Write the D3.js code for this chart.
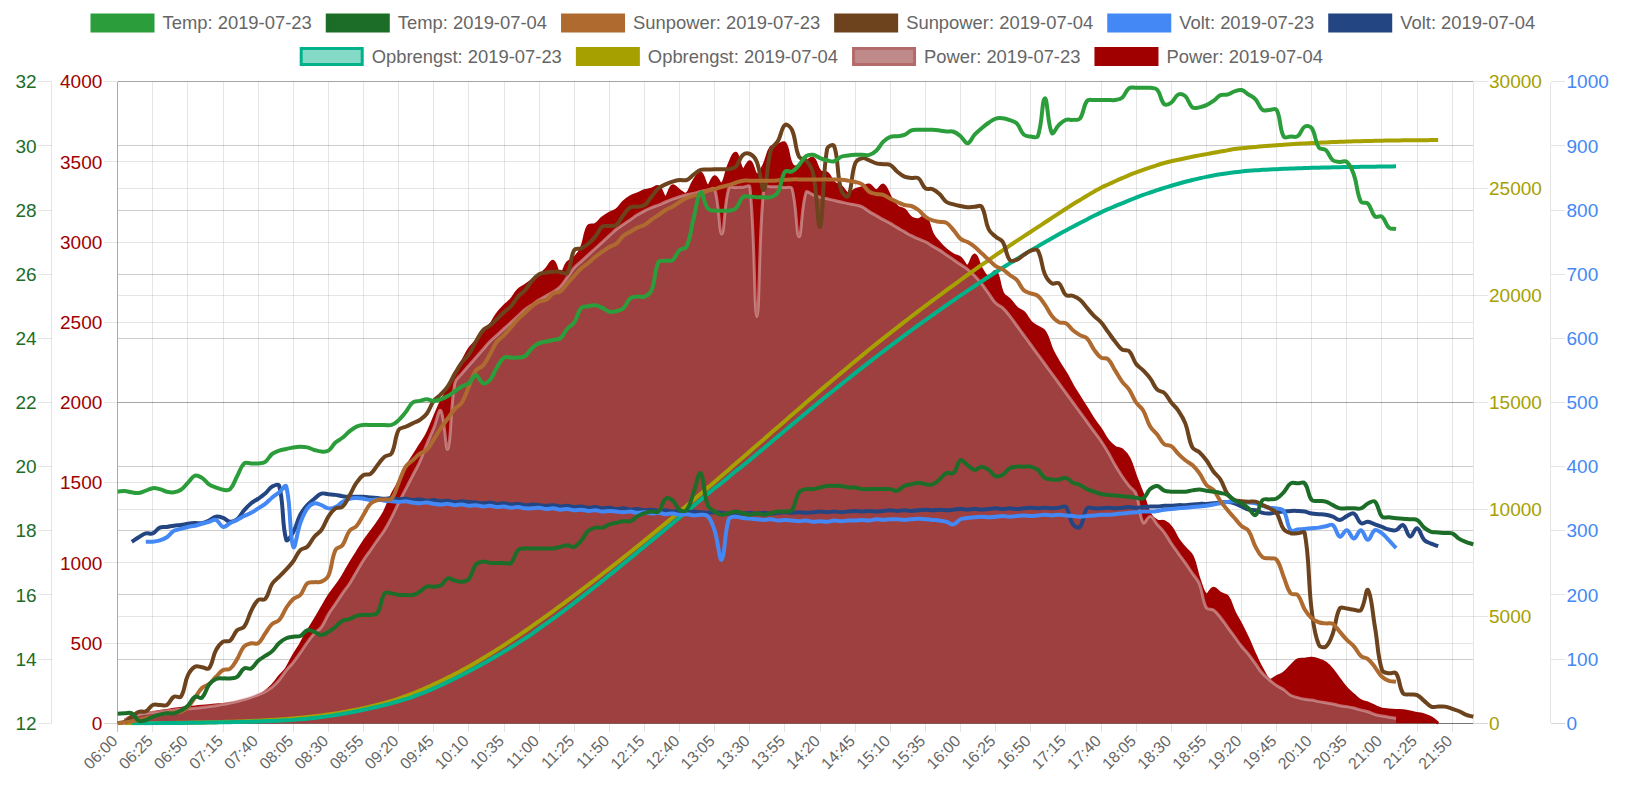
<!DOCTYPE html>
<html><head><meta charset="utf-8">
<script src="https://cdn.jsdelivr.net/npm/d3@7"></script>
<style>
html,body{margin:0;padding:0;background:#fff;}
svg{display:block;font-family:"Liberation Sans",Arial,Helvetica,sans-serif;}
</style></head><body>
<svg id="chart" width="1632" height="788"></svg>
<script>
const labels = ["06:00","06:05","06:10","06:15","06:20","06:25","06:30","06:35","06:40","06:45","06:50","06:55",
"07:00","07:05","07:10","07:15","07:20","07:25","07:30","07:35","07:40","07:45","07:50","07:55",
"08:00","08:05","08:10","08:15","08:20","08:25","08:30","08:35","08:40","08:45","08:50","08:55",
"09:00","09:05","09:10","09:15","09:20","09:25","09:30","09:35","09:40","09:45","09:50","09:55",
"10:00","10:05","10:10","10:15","10:20","10:25","10:30","10:35","10:40","10:45","10:50","10:55",
"11:00","11:05","11:10","11:15","11:20","11:25","11:30","11:35","11:40","11:45","11:50","11:55",
"12:00","12:05","12:10","12:15","12:20","12:25","12:30","12:35","12:40","12:45","12:50","12:55",
"13:00","13:05","13:10","13:15","13:20","13:25","13:30","13:35","13:40","13:45","13:50","13:55",
"14:00","14:05","14:10","14:15","14:20","14:25","14:30","14:35","14:40","14:45","14:50","14:55",
"15:00","15:05","15:10","15:15","15:20","15:25","15:30","15:35","15:40","15:45","15:50","15:55",
"16:00","16:05","16:10","16:15","16:20","16:25","16:30","16:35","16:40","16:45","16:50","16:55",
"17:00","17:05","17:10","17:15","17:20","17:25","17:30","17:35","17:40","17:45","17:50","17:55",
"18:00","18:05","18:10","18:15","18:20","18:25","18:30","18:35","18:40","18:45","18:50","18:55",
"19:00","19:05","19:10","19:15","19:20","19:25","19:30","19:35","19:40","19:45","19:50","19:55",
"20:00","20:05","20:10","20:15","20:20","20:25","20:30","20:35","20:40","20:45","20:50","20:55",
"21:00","21:05","21:10","21:15","21:20","21:25","21:30","21:35","21:40","21:45","21:50","21:55",
"22:00","22:05"];

const temp23 = [19.22,19.24,19.2,19.18,19.25,19.33,19.3,19.22,19.2,19.28,
19.5,19.72,19.65,19.45,19.35,19.28,19.3,19.7,20.1,20.1,
20.1,20.15,20.4,20.5,20.55,20.6,20.62,20.6,20.52,20.47,
20.5,20.75,20.9,21.1,21.25,21.3,21.3,21.3,21.3,21.3,
21.45,21.7,22.0,22.05,22.1,22.05,22.1,22.2,22.35,22.5,
22.6,22.85,22.6,22.7,23.1,23.4,23.4,23.4,23.45,23.7,
23.85,23.9,23.95,24.0,24.3,24.5,24.95,25.0,25.03,24.95,
24.83,24.85,24.94,25.25,25.3,25.3,25.5,26.38,26.42,26.44,
26.75,26.86,27.75,28.55,28.05,27.98,27.98,27.98,28.05,28.4,
28.42,28.4,28.4,28.4,28.55,29.2,29.2,29.4,29.68,29.72,
29.62,29.55,29.52,29.66,29.7,29.72,29.72,29.72,29.85,30.13,
30.28,30.3,30.34,30.48,30.5,30.5,30.5,30.48,30.45,30.44,
30.3,30.08,30.35,30.55,30.72,30.85,30.86,30.8,30.7,30.35,
30.29,30.3,31.48,30.4,30.65,30.81,30.81,30.85,31.4,31.43,
31.43,31.43,31.43,31.5,31.8,31.81,31.81,31.81,31.75,31.3,
31.35,31.6,31.55,31.2,31.2,31.27,31.4,31.58,31.6,31.7,
31.74,31.6,31.45,31.12,31.12,31.12,30.29,30.29,30.3,30.6,
30.55,29.95,29.87,29.55,29.5,29.5,29.1,28.26,28.2,27.8,
27.79,27.45,27.41,null,null,null,null,null,null,null,
null,null,null,null];

const temp04 = [12.3,12.31,12.31,12.08,12.1,12.2,12.27,12.31,12.31,12.4,
12.55,12.83,12.8,13.2,13.38,13.4,13.4,13.45,13.71,13.71,
13.95,14.1,14.25,14.5,14.65,14.7,14.72,14.9,14.85,14.75,
14.85,15.01,15.2,15.25,15.35,15.38,15.38,15.45,16.05,16.05,
16.0,16.0,16.0,16.1,16.26,16.26,16.3,16.52,16.45,16.41,
16.5,16.95,17.04,17.0,17.0,17.0,17.0,17.4,17.45,17.45,
17.45,17.45,17.45,17.5,17.55,17.5,17.7,18.0,18.1,18.1,
18.2,18.25,18.3,18.3,18.45,18.55,18.6,18.6,19.0,18.95,
18.65,18.65,19.2,19.8,18.8,18.6,18.5,18.55,18.6,18.55,
18.5,18.55,18.5,18.55,18.6,18.6,18.65,19.2,19.3,19.3,
19.35,19.4,19.4,19.4,19.35,19.35,19.3,19.3,19.3,19.3,
19.3,19.25,19.4,19.45,19.5,19.45,19.45,19.6,19.8,19.8,
20.2,20.05,19.9,20.0,19.9,19.7,19.75,19.95,20.0,20.0,
20.0,19.9,19.65,19.6,19.6,19.65,19.5,19.43,19.3,19.22,
19.15,19.12,19.1,19.08,19.06,19.03,19.01,19.3,19.4,19.25,
19.22,19.22,19.22,19.26,19.29,19.25,19.22,19.18,19.12,18.95,
18.86,18.7,18.49,18.96,18.98,19.01,19.2,19.48,19.48,19.48,
18.96,18.93,18.91,18.8,18.7,18.7,18.7,18.7,18.85,18.91,
18.44,18.42,18.39,18.38,18.36,18.34,18.1,17.97,17.95,17.93,
17.92,17.75,17.65,17.58];

const sun23 = [0,5,12,22,31,40,55,62,68,72,
100,160,220,245,290,332,340,400,480,499,
499,560,620,644,720,775,800,873,880,883,
920,1080,1110,1200,1230,1300,1370,1392,1396,1400,
1500,1600,1640,1680,1704,1770,1840,1900,1960,2000,
2100,2200,2230,2300,2380,2420,2470,2520,2560,2600,
2630,2640,2680,2691,2743,2790,2837,2870,2909,2940,
2970,2990,3040,3065,3090,3107,3140,3169,3200,3221,
3250,3275,3290,3300,3320,3330,3345,3355,3370,3383,
3383,3383,3383,3383,3385,3388,3391,3391,3391,3391,
3391,3391,3390,3388,3383,3375,3360,3314,3300,3294,
3270,3250,3231,3225,3200,3158,3135,3127,3120,3075,
3020,3000,2971,2930,2890,2850,2830,2795,2764,2700,
2680,2665,2610,2540,2500,2494,2450,2420,2400,2330,
2280,2270,2200,2130,2080,2000,1950,1850,1800,1740,
1728,1680,1640,1610,1560,1486,1455,1385,1330,1280,
1230,1200,1100,1035,1029,1020,914,810,800,710,
655,630,623,620,570,520,480,420,400,350,
290,265,259,null,null,null,null,null,null,null,
null,null,null,null];

const sun04 = [0,10,41,72,75,114,114,114,166,166,
300,353,350,343,457,509,515,580,602,700,
769,775,870,914,960,1010,1080,1101,1163,1205,
1288,1340,1350,1420,1500,1548,1555,1610,1662,1683,
1829,1849,1870,1891,1930,2010,2050,2100,2180,2250,
2300,2380,2450,2480,2520,2563,2600,2660,2700,2760,
2800,2810,2815,2815,2805,2951,2961,2990,3034,3096,
3100,3107,3169,3217,3221,3230,3283,3335,3360,3377,
3387,3387,3420,3450,3452,3454,3454,3455,3470,3543,
3550,3500,3325,3575,3630,3730,3700,3532,3510,3429,
3096,3580,3600,3325,3287,3491,3523,3510,3491,3485,
3481,3439,3408,3400,3398,3335,3330,3300,3250,3235,
3225,3217,3220,3221,3080,3034,3002,2889,2889,2920,
2947,2947,2800,2743,2743,2670,2665,2640,2590,2540,
2500,2440,2380,2330,2320,2240,2200,2150,2080,2060,
2000,1950,1870,1720,1690,1640,1570,1520,1430,1392,
1385,1382,1382,1360,1340,1310,1210,1185,1185,1185,
700,490,478,560,717,715,708,706,831,600,
332,312,312,187,180,176,140,104,104,104,
90,75,52,41];

const volt23 = [null,null,null,null,283,283,285,290,300,303,
306,308,311,314,317,306,312,317,323,328,
335,342,352,360,369,275,312,335,343,340,
335,337,345,350,351,350,348,349,347,346,
345,346,344,343,344,342,341,342,340,341,
339,340,338,339,337,338,336,337,335,335,
336,334,335,333,334,332,333,331,332,330,
331,330,329,330,328,329,327,328,326,327,
325,326,324,325,323,300,255,318,322,320,
319,318,317,318,316,317,316,315,316,314,
315,314,316,315,316,316,317,316,318,317,
318,318,317,318,319,318,317,316,314,310,
318,320,321,322,321,322,323,322,323,324,
323,324,325,324,325,324,323,322,323,324,
325,325,326,327,328,329,330,330,331,333,
334,335,336,337,338,339,341,343,345,346,
345,344,343,339,336,335,331,301,302,303,
304,305,307,309,291,301,288,301,286,301,
296,285,273,null,null,null,null,null,null,null,
null,null,null,null];

const volt04 = [null,null,283,290,296,296,305,306,308,309,
311,312,312,316,322,320,314,318,332,343,
350,358,369,370,286,298,325,340,350,358,
357,356,354,353,353,353,352,351,350,351,
349,350,348,349,347,348,346,347,345,346,
345,344,343,344,342,343,341,342,340,341,
340,339,340,338,339,337,338,336,337,335,
336,334,335,333,334,332,333,331,332,330,
331,329,330,329,328,329,328,327,328,327,
328,327,328,327,328,329,328,329,328,329,
330,329,330,329,330,331,330,331,330,331,
332,331,332,331,332,333,332,333,332,333,
334,333,334,333,334,335,334,335,334,335,
336,335,336,335,336,337,310,306,335,335,
335,336,335,336,337,336,337,338,338,339,
339,340,340,341,342,342,343,344,345,343,
338,333,332,328,327,329,330,331,331,330,
327,326,325,322,317,323,327,312,314,310,
306,302,301,309,291,304,286,280,276,null,
null,null,null,null];

const opbrengst23 = [null,null,0,2,4,6,8,11,14,17,
21,25,30,35,41,47,54,61,69,78,
88,99,111,125,141,160,185,215,250,290,
335,385,440,500,565,630,700,775,855,940,
1030,1130,1240,1360,1490,1630,1780,1935,2095,2260,
2430,2605,2785,2970,3160,3355,3555,3760,3970,4185,
4430,4660,4895,5135,5380,5630,5885,6142,6400,6662,
6926,7192,7460,7730,8000,8270,8540,8812,9084,9356,
9628,9900,10175,10450,10725,11000,11250,11520,11795,12040,
12315,12590,12865,13140,13415,13690,13965,14238,14510,14782,
15052,15320,15586,15850,16112,16372,16630,16886,17140,17392,
17642,17890,18135,18378,18618,18855,19090,19322,19552,19780,
20005,20228,20448,20665,20880,21092,21300,21505,21708,21908,
22105,22300,22492,22680,22865,23045,23220,23390,23560,23730,
23890,24040,24180,24315,24450,24580,24705,24820,24930,25035,
25135,25230,25320,25405,25480,25550,25612,25668,25718,25762,
25800,25832,25858,25878,25896,25912,25926,25940,25952,25963,
25973,25982,25990,25997,26003,26009,26014,26019,26024,26029,
26033,26037,26041,null,null,null,null,null,null,null,
null,null,null,null];

const opbrengst04 = [null,0,2,4,6,9,12,15,19,23,
28,33,39,46,54,63,73,84,96,110,
125,141,159,180,203,229,258,290,325,365,
410,460,515,575,640,710,785,865,950,1045,
1150,1265,1390,1525,1670,1820,1975,2135,2300,2475,
2655,2845,3040,3240,3445,3655,3870,4090,4315,4545,
4780,5015,5250,5490,5735,5980,6225,6475,6725,6980,
7235,7490,7750,8010,8275,8540,8810,9080,9350,9625,
9900,10175,10455,10735,11015,11295,11575,11860,12145,12430,
12715,13000,13285,13570,13855,14140,14425,14710,14995,15275,
15555,15835,16110,16385,16660,16935,17205,17475,17740,18000,
18258,18514,18768,19020,19270,19518,19764,20008,20250,20490,
20728,20964,21198,21430,21660,21888,22114,22336,22555,22771,
22984,23200,23415,23630,23845,24060,24270,24470,24670,24860,
25045,25195,25345,25490,25630,25760,25880,25990,26100,26200,
26280,26350,26420,26490,26555,26615,26675,26735,26790,26850,
26885,26920,26950,26980,27005,27030,27055,27075,27095,27115,
27130,27145,27160,27175,27190,27200,27210,27220,27228,27236,
27243,27248,27253,27257,27261,27264,27267,27269,27270,null,
null,null,null,null];

const power23 = [null,20,45,55,62,68,72,78,83,87,
90,94,98,104,110,118,126,136,148,162,
178,197,225,270,330,380,440,505,560,600,
680,745,810,870,945,1018,1080,1143,1205,1285,
1375,1460,1545,1630,1740,1840,1950,1710,2120,2180,
2230,2280,2330,2380,2420,2460,2500,2540,2580,2610,
2640,2665,2690,2722,2780,2840,2880,2920,2960,3000,
3040,3080,3110,3140,3170,3195,3215,3231,3250,3268,
3283,3295,3304,3315,3325,3330,3050,3335,3340,3342,
3345,2535,3345,3345,3345,3340,3335,3034,3310,3295,
3280,3270,3260,3250,3240,3232,3220,3190,3165,3140,
3117,3090,3065,3040,3020,3002,2975,2950,2920,2890,
2860,2830,2790,2740,2680,2620,2590,2540,2480,2420,
2360,2300,2240,2180,2120,2060,2000,1940,1880,1820,
1760,1690,1610,1540,1480,1430,1250,1290,1240,1190,
1122,1060,1000,935,870,720,706,660,600,540,
480,430,370,310,270,235,210,175,160,150,
145,135,128,120,110,104,95,82,72,55,
45,38,31,null,null,null,null,null,null,null,
null,null,null,null];

const power04 = [null,20,45,55,62,68,74,80,88,93,
98,102,106,110,114,118,124,132,142,155,
172,197,235,290,340,420,490,570,640,715,
790,850,914,990,1060,1130,1190,1250,1320,1420,
1500,1590,1660,1730,1800,1900,2000,2080,2170,2250,
2330,2380,2430,2480,2550,2600,2640,2700,2730,2760,
2790,2830,2880,2790,2870,2900,2960,3100,3110,3150,
3180,3200,3250,3283,3300,3320,3330,3345,3280,3350,
3320,3300,3380,3429,3350,3408,3360,3480,3554,3450,
3501,3420,3480,3590,3605,3616,3480,3470,3500,3522,
3440,3429,3370,3345,3300,3325,3340,3356,3320,3356,
3280,3220,3200,3150,3140,3158,3050,2993,2950,2920,
2900,2850,2920,2830,2780,2815,2680,2640,2589,2560,
2500,2470,2440,2330,2250,2180,2100,2030,1960,1890,
1830,1760,1720,1704,1650,1530,1420,1300,1260,1257,
1220,1143,1090,1039,893,800,842,810,789,690,
610,520,420,332,270,290,312,355,395,400,
405,395,374,330,270,215,175,140,125,105,
88,83,80,79,70,62,52,35,0,null,
null,null,null,null];

const tempTicks = [12,14,16,18,20,22,24,26,28,30,32];
const powerTicks = [0,500,1000,1500,2000,2500,3000,3500,4000];
const opbrengstTicks = [0,5000,10000,15000,20000,25000,30000];
const voltTicks = [0,100,200,300,400,500,600,700,800,900,1000];

// ---------------- drawing ----------------
const area = {left:117.7, right:1473.3, top:81.7, bottom:723.3};
const svg = d3.select('#chart');

const x = d3.scalePoint().domain(labels).range([area.left, area.right]);
const yTemp = d3.scaleLinear().domain([12,32]).range([area.bottom, area.top]);
const yPower = d3.scaleLinear().domain([0,4000]).range([area.bottom, area.top]);
const yOpb = d3.scaleLinear().domain([0,30000]).range([area.bottom, area.top]);
const yVolt = d3.scaleLinear().domain([0,1000]).range([area.bottom, area.top]);

const C = {
  temp23:'#2b9e3b', temp04:'#1c6d27', sun23:'#ae6a2f', sun04:'#6c431d',
  volt23:'#4388f4', volt04:'#234581', opb23:'#00b28a', opb04:'#a6a000',
  pow04:'#a00000'
};

// Chart.js style spline (tension) curve
function chartCurve(t){
  function Curve(ctx){ this._context = ctx; }
  Curve.prototype = {
    areaStart(){ this._line = 0; },
    areaEnd(){ this._line = NaN; },
    lineStart(){ this._pts = []; },
    point(px,py){ this._pts.push([+px,+py]); },
    lineEnd(){
      const p = this._pts, n = p.length, c = this._context;
      if(n){
        const cap = (v,lo,hi)=>Math.max(lo,Math.min(hi,v));
        const cps = p.map((cur,i)=>{
          const prev = i>0 ? p[i-1] : cur, next = i<n-1 ? p[i+1] : cur;
          const d01 = Math.hypot(cur[0]-prev[0], cur[1]-prev[1]);
          const d12 = Math.hypot(next[0]-cur[0], next[1]-cur[1]);
          let s01 = d01/(d01+d12), s12 = d12/(d01+d12);
          if(isNaN(s01)) s01 = 0; if(isNaN(s12)) s12 = 0;
          const fa = t*s01, fb = t*s12;
          return {
            px: cap(cur[0]-fa*(next[0]-prev[0]), area.left, area.right),
            py: cap(cur[1]-fa*(next[1]-prev[1]), area.top, area.bottom),
            nx: cap(cur[0]+fb*(next[0]-prev[0]), area.left, area.right),
            ny: cap(cur[1]+fb*(next[1]-prev[1]), area.top, area.bottom)
          };
        });
        if(this._line) c.lineTo(p[0][0],p[0][1]); else c.moveTo(p[0][0],p[0][1]);
        for(let i=1;i<n;i++){
          c.bezierCurveTo(cps[i-1].nx, cps[i-1].ny, cps[i].px, cps[i].py, p[i][0], p[i][1]);
        }
      }
      if(this._line || (this._line !== 0 && n === 1)) c.closePath();
      this._line = 1 - this._line;
    }
  };
  return ctx => new Curve(ctx);
}
const curve = chartCurve(0.4);

// ---------- grid ----------
const grid = svg.append('g');
const gl = (x1,y1,x2,y2,col)=>grid.append('line').attr('x1',x1).attr('y1',y1).attr('x2',x2).attr('y2',y2)
   .attr('stroke',col).attr('stroke-width',1).attr('shape-rendering','crispEdges');
const G = 'rgba(0,0,0,0.1)', Z = 'rgba(0,0,0,0.16)';

labels.forEach((l,i)=>{
  if(i%5!==0) return;
  const xx = x(l);
  gl(xx, area.top, xx, area.bottom + 9, i===0 ? 'rgba(0,0,0,0.25)' : G);
});
tempTicks.forEach(v=>{ const y=yTemp(v); gl(37.7,y,51.7,y,G); gl(area.left,y,area.right,y,G); });
gl(51.7, area.top, 51.7, area.bottom, G);
powerTicks.forEach(v=>{ const y=yPower(v); const c=v===0?Z:G; gl(103.7,y,area.left,y,c); gl(area.left,y,area.right,y,c); });
gl(area.left, area.top, area.left, area.bottom, G);
opbrengstTicks.forEach(v=>{ const y=yOpb(v); const c=v===0?Z:G; gl(area.left,y,area.right,y,c); gl(area.right,y,1487.5,y,c); });
gl(area.right, area.top, area.right, area.bottom, G);
voltTicks.forEach(v=>{ const y=yVolt(v); const c=v===0?Z:G; gl(area.left,y,area.right,y,c); gl(1550.7,y,1564.7,y,c); });
gl(1550.7, area.top, 1550.7, area.bottom, G);
gl(area.left, area.bottom, area.right, area.bottom, 'rgba(0,0,0,0.12)');

// ---------- datasets ----------
const defs = svg.append('defs');
defs.append('clipPath').attr('id','clip').append('rect')
  .attr('x', area.left-2).attr('y', area.top-2)
  .attr('width', area.right-area.left+4).attr('height', area.bottom-area.top+4);
const plot = svg.append('g').attr('clip-path','url(#clip)');

const LW = 4;
const series = [
  {label:'Temp: 2019-07-23', data:temp23, y:yTemp, stroke:C.temp23, width:LW, legendFill:C.temp23},
  {label:'Temp: 2019-07-04', data:temp04, y:yTemp, stroke:C.temp04, width:LW, legendFill:C.temp04},
  {label:'Sunpower: 2019-07-23', data:sun23, y:yPower, stroke:C.sun23, width:LW, legendFill:C.sun23},
  {label:'Sunpower: 2019-07-04', data:sun04, y:yPower, stroke:C.sun04, width:LW, legendFill:C.sun04},
  {label:'Volt: 2019-07-23', data:volt23, y:yVolt, stroke:C.volt23, width:LW, legendFill:C.volt23},
  {label:'Volt: 2019-07-04', data:volt04, y:yVolt, stroke:C.volt04, width:LW, legendFill:C.volt04},
  {label:'Opbrengst: 2019-07-23', data:opbrengst23, y:yOpb, stroke:C.opb23, width:LW, legendFill:'rgba(0,178,138,0.48)'},
  {label:'Opbrengst: 2019-07-04', data:opbrengst04, y:yOpb, stroke:C.opb04, width:LW, legendFill:C.opb04},
  {label:'Power: 2019-07-23', data:power23, y:yPower, stroke:'rgba(218,170,170,0.62)', width:3, fill:'rgba(158,90,90,0.71)', legendFill:'rgb(192,138,138)', legendStroke:'rgb(178,106,106)'},
  {label:'Power: 2019-07-04', data:power04, y:yPower, stroke:C.pow04, width:3, fill:C.pow04, legendFill:C.pow04}
];

// Chart.js draws the last dataset first
series.slice().reverse().forEach(s=>{
  const pts = s.data.map((v,i)=>({k:labels[i], v}));
  if(s.fill){
    const a = d3.area().defined(d=>d.v!=null).x(d=>x(d.k)).y0(s.y(0)).y1(d=>s.y(d.v)).curve(curve);
    plot.append('path').attr('d', a(pts)).attr('fill', s.fill).attr('stroke','none');
  }
  const ln = d3.line().defined(d=>d.v!=null).x(d=>x(d.k)).y(d=>s.y(d.v)).curve(curve);
  plot.append('path').attr('d', ln(pts)).attr('fill','none').attr('stroke', s.stroke)
    .attr('stroke-width', s.width).attr('stroke-linejoin','round').attr('stroke-linecap','butt');
});

// ---------- axis labels ----------
const axG = svg.append('g').style('font-size','19px');
tempTicks.forEach(v=>axG.append('text').attr('x',36.7).attr('y',yTemp(v)).attr('dy','0.35em')
  .attr('text-anchor','end').attr('fill',C.temp04).text(v));
powerTicks.forEach(v=>axG.append('text').attr('x',102.3).attr('y',yPower(v)).attr('dy','0.35em')
  .attr('text-anchor','end').attr('fill',C.pow04).text(v));
opbrengstTicks.forEach(v=>axG.append('text').attr('x',1489).attr('y',yOpb(v)).attr('dy','0.35em')
  .attr('text-anchor','start').attr('fill',C.opb04).text(v));
voltTicks.forEach(v=>axG.append('text').attr('x',1566.5).attr('y',yVolt(v)).attr('dy','0.35em')
  .attr('text-anchor','start').attr('fill',C.volt23).text(v));

const xg = svg.append('g').style('font-size','16px').attr('fill','#666');
labels.forEach((l,i)=>{
  if(i%5!==0) return;
  xg.append('text').attr('text-anchor','end').attr('dy','0.35em')
    .attr('transform',`translate(${x(l)-3},738) rotate(-45)`).text(l);
});

// ---------- legend ----------
const lg = svg.append('g').style('font-size','18.4px');
const rows = [series.slice(0,6), series.slice(6)];
const rowTop = [13.5, 47];
const rowStart = [90.5, 299.7];
const BOXW = 64, BOXH = 19, TGAP = 8, IGAP = 14;
rows.forEach((row,r)=>{
  let cx = rowStart[r];
  const cy = rowTop[r] + BOXH/2;
  row.forEach(s=>{
    lg.append('rect').attr('x',cx+1.5).attr('y',rowTop[r]+1.5).attr('width',BOXW-3).attr('height',BOXH-3)
      .attr('fill',s.legendFill).attr('stroke',s.legendStroke || s.stroke).attr('stroke-width',3);
    const t = lg.append('text').attr('fill','#666').attr('dy','0.35em')
      .attr('x', cx+BOXW+TGAP).attr('y', cy).text(s.label);
    cx += BOXW + TGAP + t.node().getComputedTextLength() + IGAP;
  });
});
</script>
</body></html>
